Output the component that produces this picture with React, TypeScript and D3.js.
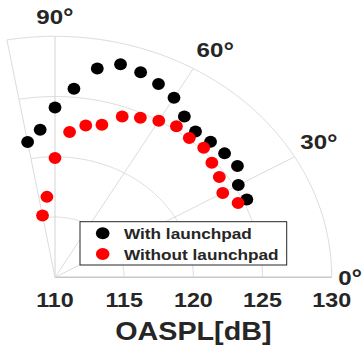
import React from "react";
import * as d3 from "d3";

// Data
const angles = [100, 95, 90, 85, 80, 75, 70, 65, 60, 55, 50, 45, 40, 35, 30, 25];
const withLaunchpad = [121.4, 122.3, 124.1, 125.7, 127.6, 128.3, 128.1, 127.7, 127.2, 126.3, 125.8, 125.9, 126.0, 126.1, 125.3, 125.3];
const withoutLaunchpad = [115.2, 116.7, 119.9, 122.1, 122.8, 123.1, 124.2, 124.6, 125.0, 125.3, 125.1, 125.2, 124.8, 124.5, 124.0, 124.6];
const radialTicks = [110, 115, 120, 125, 130];
const thetaTicks = [0, 30, 60, 90];
const thetaLimit = [0, 100];
const seriesNames = ["With launchpad", "Without launchpad"];
const seriesColors = ["#000000", "#ff0000"];

const W = 363;
const H = 352;
const cx = 55;
const cy = 277.3;
const RX = 276.7;
const RY = 241;
const SX = 1.148; // horizontal stretch of the picture
const FONT = "'Liberation Sans', Arial, Helvetica, sans-serif";
const TXT = "#262626";
const GRID = "#dcdcdc";

const rScale = d3.scaleLinear().domain([110, 130]).range([0, 1]);
const rad = (deg: number) => (deg * Math.PI) / 180;
const pt = (theta: number, r: number): [number, number] => {
  const n = rScale(r);
  return [cx + RX * n * Math.cos(rad(theta)), cy - RY * n * Math.sin(rad(theta))];
};

function StretchText(props: { x: number; y: number; size: number; anchor?: string; children: React.ReactNode }) {
  const { x, y, size, anchor = "start", children } = props;
  return (
    <text
      transform={`translate(${x},${y}) scale(${SX},1)`}
      fontFamily={FONT}
      fontWeight="bold"
      fontSize={size}
      fill={TXT}
      textAnchor={anchor}
    >
      {children}
    </text>
  );
}

export default function App() {
  const arcPath = (r: number) => {
    const ts = d3.range(thetaLimit[0], thetaLimit[1] + 0.001, 0.5);
    return d3.line<number>().x((t) => pt(t, r)[0]).y((t) => pt(t, r)[1])(ts) || "";
  };

  const series = [withLaunchpad, withoutLaunchpad];

  const legendX = 80;
  const legendY = 221.7;
  const legendW = 206.7;
  const legendH = 43.3;

  return (
    <svg
      width={W}
      height={H}
      style={{ position: "absolute", left: 0, top: 0, background: "#fff" }}
    >
      <rect x={0} y={0} width={W} height={H} fill="#fff" />
      {/* radial grid arcs */}
      {radialTicks.slice(1).map((r) => (
        <path key={`arc${r}`} d={arcPath(r)} fill="none" stroke={GRID} strokeWidth={1} />
      ))}
      {/* angular grid lines */}
      {[...thetaTicks, thetaLimit[1]].map((t) => {
        const [x2, y2] = pt(t, 130);
        return (
          <line
            key={`rl${t}`}
            x1={cx}
            y1={cy}
            x2={x2}
            y2={y2}
            stroke={t === 0 ? "#c8c8c8" : t === 90 ? "#d4d4d4" : GRID}
            strokeWidth={t === 0 ? 1.6 : 1}
          />
        );
      })}

      {/* data markers */}
      {series.map((vals, si) =>
        vals.map((v, i) => {
          const [x, y] = pt(angles[i], v);
          return <ellipse key={`p${si}-${i}`} cx={x} cy={y} rx={6.4} ry={6} fill={seriesColors[si]} />;
        })
      )}

      {/* theta labels */}
      {thetaTicks.map((t) => {
        const [rx, ry] = pt(t, 130);
        const s = Math.sin(rad(t));
        const c = Math.cos(rad(t));
        const x = rx + 6.5 * c;
        const y = ry + 7.5 - 20.2 * Math.pow(s, 0.4);
        return (
          <StretchText key={`tl${t}`} x={x} y={y} size={21} anchor={t === 90 ? "middle" : "start"}>
            {String(t)}
            <tspan fontSize={23} dy={1.5}>°</tspan>
          </StretchText>
        );
      })}

      {/* radial tick labels */}
      {radialTicks.map((r) => {
        const [x] = pt(0, r);
        return (
          <StretchText key={`rt${r}`} x={x} y={307} size={20.3} anchor="middle">
            {String(r)}
          </StretchText>
        );
      })}

      {/* axis title */}
      <StretchText x={(pt(0, 110)[0] + pt(0, 130)[0]) / 2} y={340} size={25} anchor="middle">
        OASPL[dB]
      </StretchText>

      {/* legend */}
      <rect x={legendX} y={legendY} width={legendW} height={legendH} fill="#fff" stroke={TXT} strokeWidth={1} />
      {seriesNames.map((name, i) => {
        const yc = legendY + 11.6 + i * 20.7;
        return (
          <g key={`lg${i}`}>
            <ellipse cx={legendX + 22.7} cy={yc} rx={6.8} ry={6} fill={seriesColors[i]} />
            <StretchText x={legendX + 44} y={yc + 5.6} size={15}>
              {name}
            </StretchText>
          </g>
        );
      })}
    </svg>
  );
}
